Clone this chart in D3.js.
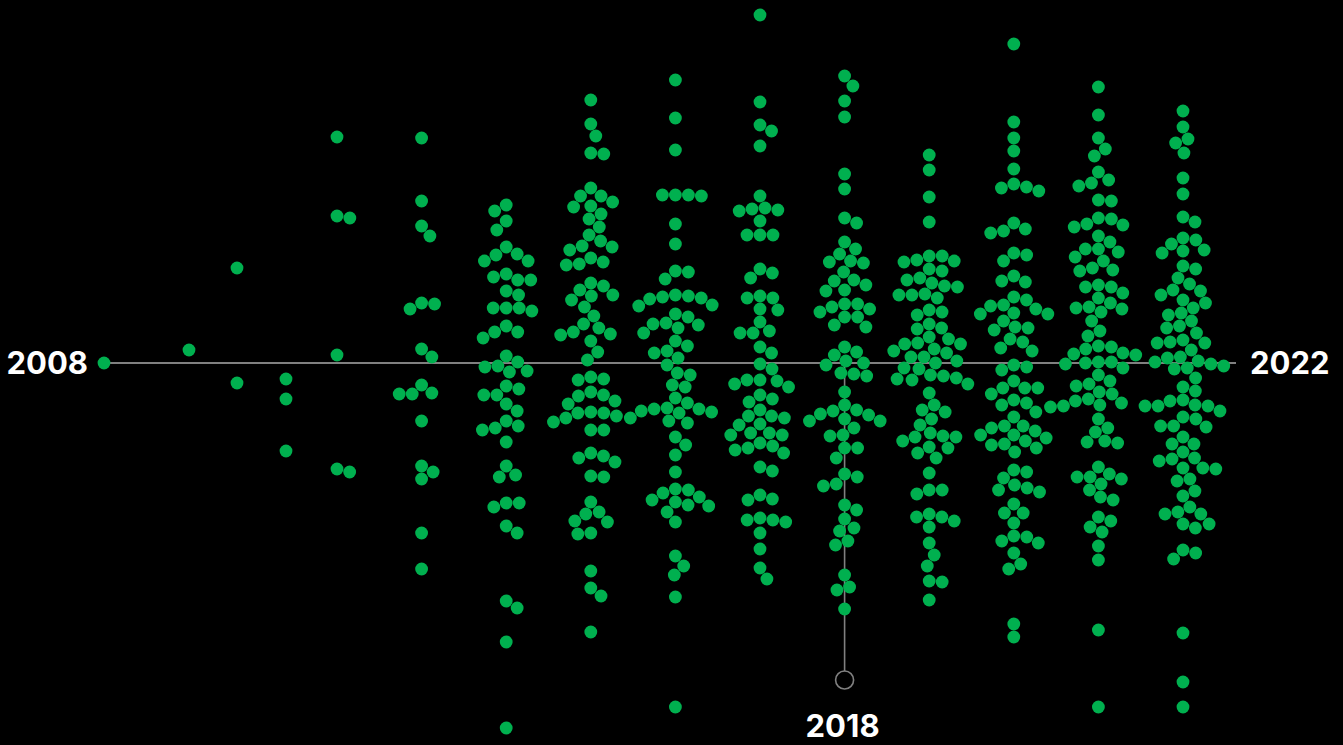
<!DOCTYPE html>
<html>
<head>
<meta charset="utf-8">
<script src="https://cdn.jsdelivr.net/npm/d3@7"></script>
<style>
  html, body { margin: 0; padding: 0; background: #000; }
  svg { display: block; }
  text { font-family: Inter, "Liberation Sans", Arial, sans-serif; font-weight: 700; fill: #fff; }
</style>
</head>
<body>
<svg id="chart" width="1343" height="745"></svg>
<script>
// ---- data: one score per item, grouped by year (0 = baseline) ----
const years = [2008, 2009, 2010, 2011, 2012, 2013, 2014, 2015, 2016, 2017, 2018, 2019, 2020, 2021, 2022];
const highlightYear = 2018;

const v2008 = [0];
const v2009 = [13];
const v2010 = [95, -20];
const v2011 = [-16, -36, -88];
const v2012 = [226, 145, 147, 8, -109, -106];
const v2013 = [225, 162, 137, 127, 59, 54, 60, 14, 6, -30, -31, -22, -31, -58, -103, -109, -116, -170, -206];
const v2014 = [158, 152, 142, 133, 116, 108, 109, 102, 102, 86, 89, 83, 83, 72, 68, 55, 55, 55, 52, 37, 31, 31, 25, 7, 1, -4, -3, -9, -8, -26, -23, -32, -32, -41, -48, -63, -58, -65, -67, -79, -103, -112, -114, -140, -144, -140, -163, -170, -238, -245, -279, -365];
const v2015 = [263, 239, 227, 209, 210, 175, 167, 167, 157, 161, 156, 149, 144, 136, 128, 117, 122, 113, 116, 101, 105, 98, 99, 77, 80, 73, 67, 63, 68, 56, 47, 39, 28, 29, 31, 35, 22, 11, 3, -16, -17, -14, -33, -32, -29, -38, -41, -55, -49, -53, -59, -50, -50, -67, -67, -93, -99, -90, -95, -114, -113, -139, -151, -149, -158, -159, -171, -170, -208, -225, -233, -269];
const v2016 = [283, 245, 213, 168, 167, 168, 168, 139, 119, 91, 84, 92, 65, 64, 67, 68, 66, 57, 58, 49, 46, 40, 35, 38, 39, 30, 22, 17, 10, 12, 5, -2, -12, -10, -24, -22, -35, -40, -46, -48, -46, -45, -58, -60, -55, -50, -49, -74, -82, -92, -109, -127, -134, -130, -126, -142, -149, -143, -137, -139, -159, -193, -203, -212, -234, -344];
const v2017 = [348, 261, 232, 238, 217, 167, 153, 154, 155, 152, 142, 128, 128, 128, 90, 85, 94, 65, 67, 65, 53, 54, 41, 32, 30, 30, 16, 10, -1, -6, -18, -17, -24, -17, -21, -36, -39, -32, -53, -55, -47, -53, -61, -72, -62, -70, -70, -72, -85, -83, -90, -80, -87, -108, -104, -136, -137, -132, -157, -155, -159, -157, -170, -186, -205, -216];
const v2018 = [287, 277, 262, 246, 189, 174, 140, 145, 121, 114, 109, 101, 100, 102, 91, 73, 83, 82, 72, 78, 56, 59, 46, 51, 59, 54, 46, 36, 38, 16, 11, 8, -2, 2, 0, -11, -13, -10, -29, -42, -48, -58, -52, -58, -51, -56, -47, -72, -73, -65, -85, -85, -95, -114, -111, -123, -121, -142, -147, -156, -165, -168, -182, -178, -212, -227, -224, -246];
const v2019 = [208, 193, 166, 141, 107, 102, 107, 101, 103, 92, 94, 83, 85, 76, 80, 77, 68, 65, 69, 68, 53, 48, 51, 35, 39, 34, 26, 20, 19, 24, 19, 14, 6, 10, 12, 6, 0, 2, -6, -5, -16, -12, -15, -13, -17, -21, -30, -42, -49, -47, -56, -62, -73, -70, -74, -74, -85, -84, -90, -95, -78, -110, -127, -131, -127, -154, -154, -151, -158, -164, -180, -192, -203, -219, -218, -237];
const v2020 = [319, 241, 225, 212, 194, 176, 172, 179, 175, 134, 130, 140, 132, 108, 102, 110, 82, 81, 87, 66, 54, 63, 57, 58, 50, 49, 49, 42, 36, 24, 33, 35, 21, 15, 12, -4, -7, -2, -25, -31, -25, -18, -25, -42, -40, -37, -54, -49, -68, -63, -65, -63, -78, -81, -75, -82, -72, -72, -85, -89, -107, -109, -115, -125, -122, -127, -129, -141, -150, -150, -160, -178, -174, -180, -173, -190, -206, -201, -261, -274];
const v2021 = [276, 248, 225, 214, 207, 191, 180, 183, 177, 162, 163, 139, 144, 136, 145, 138, 127, 121, 114, 114, 111, 106, 102, 93, 92, 95, 76, 78, 70, 76, 65, 54, 60, 51, 56, 55, 42, 32, 27, 10, 17, 8, 16, 9, 14, -1, 1, -5, 0, 1, -12, -21, -18, -23, -31, -29, -42, -38, -44, -36, -43, -40, -56, -69, -65, -79, -80, -78, -104, -114, -114, -111, -116, -121, -127, -134, -137, -158, -154, -164, -169, -183, -197, -267, -344];
const v2022 = [252, 236, 224, 220, 210, 185, 169, 141, 146, 123, 113, 125, 119, 112, 110, 94, 97, 85, 73, 79, 72, 68, 60, 50, 63, 55, 48, 37, 42, 35, 30, 20, 20, 21, 23, 13, 5, 6, -6, -1, -5, 2, 1, -3, -15, -24, -28, -37, -38, -43, -43, -43, -42, -54, -48, -56, -63, -64, -63, -74, -81, -81, -89, -95, -96, -105, -105, -98, -106, -116, -118, -128, -133, -144, -149, -161, -151, -161, -151, -165, -190, -196, -187, -270, -319, -344];

const valuesByYear = [v2008, v2009, v2010, v2011, v2012, v2013, v2014, v2015, v2016, v2017, v2018, v2019, v2020, v2021, v2022];

// ---- layout ----
const W = 1343, H = 745;
const R = 6.4;          // dot radius
const D = 13.0;         // minimum centre distance
const GREEN = "#00b04f";
const GREY = "#808080";

const svg = d3.select("#chart");
svg.append("rect").attr("width", W).attr("height", H).attr("fill", "#000");

const x = d3.scaleLinear()
  .domain([2008, 2009, 2010, 2011, 2012, 2022])
  .range([104, 189, 237, 286, 337, 1183]);

const y = d3.scaleLinear().domain([-400, 400]).range([763, -37]);

// nodes
const nodes = [];
years.forEach((yr, i) => {
  valuesByYear[i].forEach(v => nodes.push({ year: yr, value: v, x0: x(yr), y: y(v) }));
});

// deterministic beeswarm: keep y exact, move x as little as possible
nodes.sort((a, b) => a.y - b.y);
const placed = [];
for (const n of nodes) {
  const near = placed.filter(p => Math.abs(p.y - n.y) < D);
  const cands = [n.x0];
  for (const p of near) {
    const dx = Math.sqrt(D * D - (p.y - n.y) ** 2);
    cands.push(p.x + dx, p.x - dx);
  }
  cands.sort((a, b) => Math.abs(a - n.x0) - Math.abs(b - n.x0));
  n.x = n.x0;
  for (const c of cands) {
    if (near.every(p => (p.x - c) ** 2 + (p.y - n.y) ** 2 >= D * D - 0.01)) { n.x = c; break; }
  }
  placed.push(n);
}

// baseline
const lineEnd = x(2022) + 53;
svg.append("line")
  .attr("x1", x(2008)).attr("x2", lineEnd)
  .attr("y1", y(0)).attr("y2", y(0))
  .attr("stroke", GREY).attr("stroke-width", 2);

// highlight marker
const markerY = y(-317);
svg.append("line")
  .attr("x1", x(highlightYear)).attr("x2", x(highlightYear))
  .attr("y1", y(0)).attr("y2", markerY - 9)
  .attr("stroke", GREY).attr("stroke-width", 1.6);
svg.append("circle")
  .attr("cx", x(highlightYear)).attr("cy", markerY).attr("r", 9)
  .attr("fill", "none").attr("stroke", GREY).attr("stroke-width", 1.6);

// dots
svg.append("g").selectAll("circle")
  .data(nodes)
  .join("circle")
  .attr("cx", d => d.x)
  .attr("cy", d => d.y)
  .attr("r", R)
  .attr("fill", GREEN);

// labels
svg.append("text")
  .attr("x", x(2008) - 16).attr("y", y(0))
  .attr("dy", "0.36em")
  .attr("text-anchor", "end")
  .style("font-size", "31px")
  .text(String(years[0]));

svg.append("text")
  .attr("x", lineEnd + 14).attr("y", y(0))
  .attr("dy", "0.36em")
  .attr("text-anchor", "start")
  .style("font-size", "31px")
  .text(String(years[years.length - 1]));

svg.append("text")
  .attr("x", x(highlightYear) - 2).attr("y", 737)
  .attr("text-anchor", "middle")
  .style("font-size", "31px")
  .text(String(highlightYear));
</script>
</body>
</html>
